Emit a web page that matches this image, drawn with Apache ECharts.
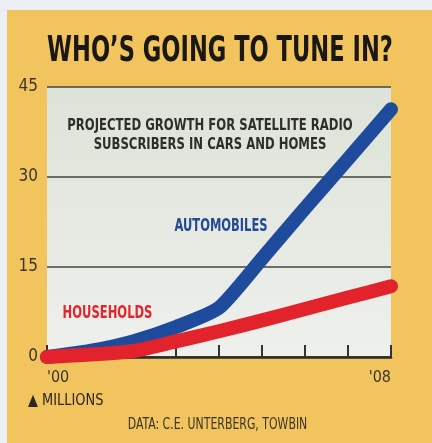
<!DOCTYPE html>
<html>
<head>
<meta charset="utf-8">
<script src="https://cdn.jsdelivr.net/npm/echarts@6/dist/echarts.min.js"></script>
<style>
html,body{margin:0;padding:0;background:#eceff3;}
#c{width:432px;height:443px;}
</style>
</head>
<body>
<div id="c"></div>
<script>
const years = ["'00","'01","'02","'03","'04","'05","'06","'07","'08"];
const automobiles = [0, 1.0, 2.6, 5.0, 8.2, 16.4, 24.8, 33.0, 41.3];
const households = [0, 0.4, 1.0, 2.6, 4.3, 6.1, 8.0, 9.9, 11.8];
const yTicks = [0, 15, 30, 45];

const chart = echarts.init(document.getElementById('c'), null, {renderer: 'canvas'});
const narrow = '"Liberation Sans Narrow", "DejaVu Sans Condensed", sans-serif';
function label(text, x, y, font, fill, sx, extra) {
  return Object.assign({type: 'text', x: x, y: y, z: 10, scaleX: sx,
    style: {text: text, font: font, fill: fill, textAlign: 'center', textVerticalAlign: 'middle'}}, extra || {});
}
chart.setOption({
  backgroundColor: '#eceff3',
  animation: false,
  graphic: [
    {type: 'rect', z: -10, shape: {x: 7, y: 10, width: 425, height: 433}, style: {fill: '#f2c45e'}},
    label("WHO\u2019S GOING TO TUNE IN?", 220, 52, 'bold 35px ' + narrow, '#1a1714', 0.717),
    label('PROJECTED GROWTH FOR SATELLITE RADIO', 210, 126, 'bold 16px ' + narrow, '#2f2d2b', 0.81),
    label('SUBSCRIBERS IN CARS AND HOMES', 210, 145, 'bold 16px ' + narrow, '#2f2d2b', 0.81),
    label('AUTOMOBILES', 221, 227, 'bold 17px ' + narrow, '#234a94', 0.75),
    label('HOUSEHOLDS', 107.5, 314, 'bold 17px ' + narrow, '#e2252c', 0.755),
    {type: 'text', x: 28, y: 401, z: 10, scaleX: 0.9,
      style: {text: '\u25B2 MILLIONS', font: '16px ' + narrow, fill: '#2a2622', textVerticalAlign: 'middle'}},
    label('DATA: C.E. UNTERBERG, TOWBIN', 217.5, 425, '15px ' + narrow, '#3a332a', 0.81)
  ],
  grid: {
    left: 47, right: 41, top: 87, bottom: 86, show: true, borderWidth: 0,
    backgroundColor: {type: 'linear', x: 0, y: 0, x2: 0, y2: 1,
      colorStops: [{offset: 0, color: '#dde3d8'}, {offset: 1, color: '#eef0ec'}]}
  },
  xAxis: {
    type: 'category', data: years, boundaryGap: false,
    axisLine: {lineStyle: {color: '#2a2a2a', width: 2.5}},
    axisTick: {inside: true, length: 12, interval: 0, lineStyle: {color: '#333', width: 2}},
    axisLabel: {
      interval: 0, margin: 13, color: '#3a3530', fontSize: 16, fontFamily: narrow,
      formatter: (v, i) => (i === 0 || i === years.length - 1) ? v : '',
      alignMinLabel: 'left', alignMaxLabel: 'right'
    },
    splitLine: {show: false}
  },
  yAxis: {
    type: 'value', min: 0, max: 45, interval: 15,
    axisLine: {show: false}, axisTick: {show: false},
    axisLabel: {color: '#3a3530', fontSize: 17, fontFamily: narrow, margin: 9,
      formatter: v => yTicks.includes(v) ? String(v) : ''},
    splitLine: {lineStyle: {color: '#45443f', width: 1.5}}
  },
  series: [
    {name: 'Automobiles', type: 'line', data: automobiles, smooth: 0.2, symbol: 'none', clip: false,
      lineStyle: {color: '#1f4b9c', width: 14, cap: 'round', join: 'round'}},
    {name: 'Households', type: 'line', data: households, smooth: 0.3, symbol: 'none', clip: false,
      lineStyle: {color: '#e3232b', width: 14, cap: 'round', join: 'round'}}
  ]
});
</script>
</body>
</html>
